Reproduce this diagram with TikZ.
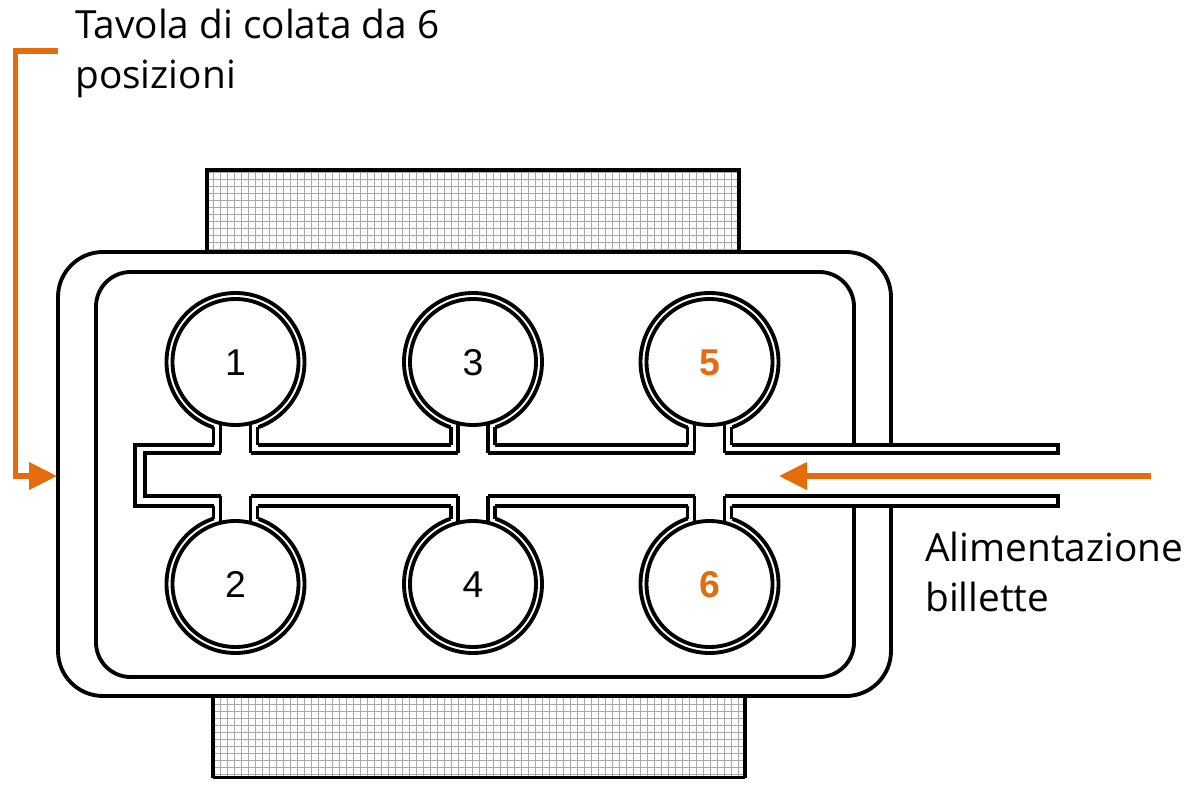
\documentclass[tikz,border=0pt]{standalone}
\usepackage{fontspec}
\setmainfont{Liberation Sans}
\newfontfamily\lblfont{Open Sans}
\usetikzlibrary{arrows.meta}
\definecolor{orng}{HTML}{E46C0A}
\tikzset{
  x=0.75pt,y=-0.75pt,
  ink/.style={line width=2.9pt,black},
  hatchline/.style={line width=0.7pt,black!34},
  lbl/.style={font=\lblfont\fontsize{29.1}{37.5}\selectfont,align=left,inner sep=0pt,anchor=base west},
  num/.style={font=\fontsize{28}{30}\selectfont,inner sep=0pt},
  onum/.style={num,text=orng,font=\fontsize{28}{30}\selectfont\bfseries},
  oarrow/.style={draw=orng,line width=4pt,-{Triangle[length=21pt,width=20pt,fill=orng]}}
}
\newcommand{\hatchbox}[6]{%
  \begin{scope}
    \clip (#1,#2) rectangle (#3,#4);
    \foreach \k in {0,...,80} {\draw[hatchline] ({#1+#5+7*\k},#2) -- ({#1+#5+7*\k},#4);}
    \foreach \k in {0,...,16} {\draw[hatchline] (#1,{#2+#6+7*\k}) -- (#3,{#2+#6+7*\k});}
  \end{scope}
  \draw[ink] (#1,#4) -- (#1,#2) -- (#3,#2) -- (#3,#4);
}
\newcommand{\topstation}[3]{%
  \draw[ink,fill=white] (#1,362) circle (69);
  \fill[white] ({#1-22},400) rectangle ({#1+22},445);
  \draw[ink,fill=white] (#1,362) circle (63);
  \draw[ink] ({#1-22},427.4) -- ({#1-22},445);
  \draw[ink] ({#1+22},427.4) -- ({#1+22},445);
  \draw[ink] ({#1-15},423.2) -- ({#1-15},453);
  \draw[ink] ({#1+15},423.2) -- ({#1+15},453);
  \node[#3] (n#2) at (#1,362.5) {#2};
}
\newcommand{\botstation}[3]{%
  \draw[ink,fill=white] (#1,584) circle (69);
  \fill[white] ({#1-22},506) rectangle ({#1+22},550);
  \draw[ink,fill=white] (#1,584) circle (63);
  \draw[ink] ({#1-22},506) -- ({#1-22},518.6);
  \draw[ink] ({#1+22},506) -- ({#1+22},518.6);
  \draw[ink] ({#1-15},496) -- ({#1-15},522.8);
  \draw[ink] ({#1+15},496) -- ({#1+15},522.8);
  \node[#3] (n#2) at (#1,584.5) {#2};
}
\begin{document}
\begin{tikzpicture}
\useasboundingbox (0,0) rectangle (1188,787);
\fill[white] (0,0) rectangle (1188,787);
\hatchbox{207}{170}{739}{252}{6.3}{2.3}
\hatchbox{213}{696}{745}{777.5}{7}{1}
\draw[ink] (213,777.5) -- (745,777.5);
\draw[ink,fill=white,rounded corners=33.75pt] (58,252) rectangle (891,696);
\draw[ink,fill=white,rounded corners=26pt] (96,272) rectangle (854,677);
% channel
\fill[white] (135,445) rectangle (1058,506);
\topstation{235.5}{1}{num}
\topstation{473}{3}{num}
\topstation{709.5}{5}{onum}
\botstation{235.5}{2}{num}
\botstation{473}{4}{num}
\botstation{709.5}{6}{onum}
% channel walls
\draw[ink] (213.5,445) -- (135,445) -- (135,506) -- (213.5,506);
\draw[ink] (220.5,453) -- (145,453) -- (145,496) -- (220.5,496);
\draw[ink] (257.5,445) -- (451,445) (495,445) -- (687.5,445) (731.5,445) -- (1058,445) -- (1058,453) -- (724.5,453);
\draw[ink] (694.5,453) -- (488,453) (458,453) -- (250.5,453);
\draw[ink] (257.5,506) -- (451,506) (495,506) -- (687.5,506) (731.5,506) -- (1058,506) -- (1058,496) -- (724.5,496);
\draw[ink] (694.5,496) -- (488,496) (458,496) -- (250.5,496);
% labels
\node[lbl] (tavola) at (75,89) {Tavola di colata da 6\\posizioni};
\node[lbl] (alim) at (925,611) {Alimentazione\\billette};
% arrows
\coordinate (tstart) at (58,51);
\coordinate (ttip) at (57,476);
\coordinate (bstart) at (1151,476);
\coordinate (btip) at (779,476);
\draw[oarrow] (tstart) -- (15.5,51) -- (15.5,476) -- (ttip);
\draw[oarrow] (bstart) -- (btip);
\end{tikzpicture}
\end{document}
